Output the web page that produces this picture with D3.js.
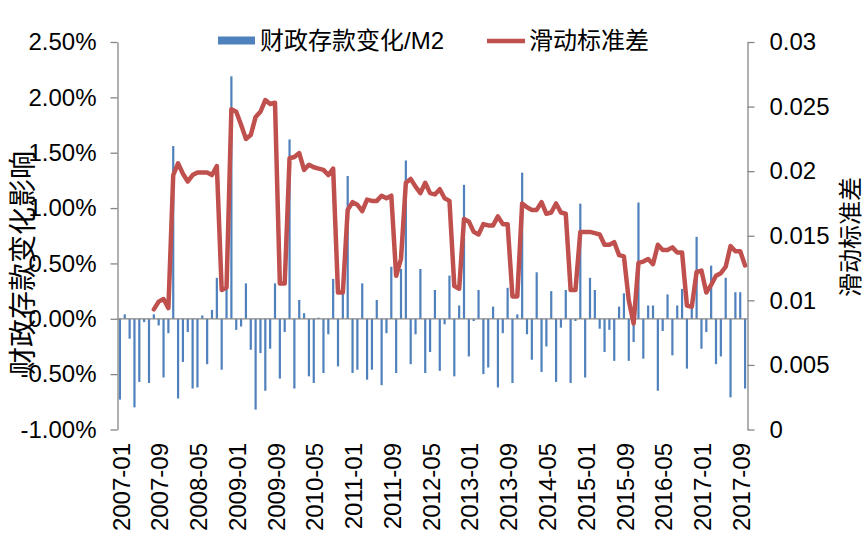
<!DOCTYPE html>
<html><head><meta charset="utf-8">
<script src="https://cdn.jsdelivr.net/npm/d3@7"></script>
<style>body{margin:0;background:#fff}text{font-family:"Liberation Sans","Noto Sans CJK SC",sans-serif;fill:#000}</style>
</head><body><svg id="c" width="866" height="543"></svg>
<script>
// ---- categories: monthly, 2007-01 .. 2017-10 ----
const startYear = 2007, nMonths = 130;
const months = [];
for (let k = 0; k < nMonths; k++) {
  months.push((startYear + Math.floor(k / 12)) + "-" + String(k % 12 + 1).padStart(2, "0"));
}
// ---- series 1: 财政存款变化/M2 (percent) ----
const depositChange = [
 -0.73, 0.04,-0.18,-0.80,-0.57,-0.03,-0.58, 0.04,-0.06,-0.53,-0.13, 1.56,
 -0.72,-0.39,-0.12,-0.63,-0.62, 0.03,-0.41, 0.08, 0.37,-0.46, 0.30, 2.19,
 -0.10,-0.07, 0.32,-0.28,-0.82,-0.31,-0.65,-0.27, 0.32,-0.54,-0.12, 1.62,
 -0.63, 0.17, 0.05,-0.52,-0.58, 0.01,-0.49,-0.14, 0.36,-0.43, 0.25, 1.29,
 -0.49,-0.46, 0.32,-0.55,-0.46, 0.17,-0.60,-0.13, 0.47,-0.49, 0.45, 1.43,
 -0.41,-0.14, 0.45,-0.49,-0.30, 0.26,-0.47,-0.05, 0.39,-0.52, 0.12, 1.21,
 -0.34,-0.02, 0.26,-0.50,-0.44, 0.11,-0.62,-0.13, 0.28,-0.58, 0.04, 1.32,
 -0.14,-0.37, 0.42,-0.48,-0.25, 0.25,-0.57,-0.08, 0.26,-0.58,-0.02, 1.04,
 -0.53, 0.37, 0.26,-0.09,-0.30,-0.10,-0.38, 0.11, 0.23,-0.38,-0.21, 1.05,
 -0.36, 0.12, 0.12,-0.65,-0.11, 0.22,-0.33, 0.12, 0.27,-0.45, 0.10, 0.74,
 -0.27,-0.12, 0.48,-0.41,-0.34, 0.37,-0.71, 0.24, 0.24,-0.63
];
// ---- series 2: 滑动标准差 ----
const rollingStd = [
 null,null,null,null,null,null,null,0.0093,0.0099,0.0101,0.0094,0.0197,
 0.0206,0.0198,0.0192,0.0197,0.0199,0.0199,0.0199,0.0197,0.0204,0.0108,0.0110,0.0248,
 0.0246,0.0236,0.0225,0.0228,0.0242,0.0246,0.0255,0.0252,0.0253,0.0113,0.0113,0.0210,
 0.0211,0.0214,0.0201,0.0205,0.0203,0.0202,0.0201,0.0197,0.0202,0.0106,0.0106,0.0170,
 0.0176,0.0174,0.0169,0.0178,0.0177,0.0177,0.0181,0.0179,0.0181,0.0119,0.0132,0.0191,
 0.0194,0.0188,0.0183,0.0191,0.0183,0.0182,0.0186,0.0179,0.0177,0.0111,0.0109,0.0163,
 0.0161,0.0153,0.0151,0.0159,0.0158,0.0158,0.0165,0.0159,0.0159,0.0103,0.0103,0.0175,
 0.0172,0.0170,0.0170,0.0176,0.0167,0.0168,0.0175,0.0168,0.0167,0.0108,0.0108,0.0153,
 0.0153,0.0153,0.0152,0.0151,0.0143,0.0143,0.0145,0.0135,0.0134,0.0100,0.0082,0.0129,
 0.0130,0.0132,0.0128,0.0143,0.0139,0.0139,0.0141,0.0137,0.0137,0.0096,0.0095,0.0122,
 0.0123,0.0106,0.0112,0.0119,0.0121,0.0126,0.0142,0.0138,0.0138,0.0127
];
// ---- tick labels ----
const leftTicks = [-1.0, -0.5, 0, 0.5, 1.0, 1.5, 2.0, 2.5];
const rightTicks = [0, 0.005, 0.01, 0.015, 0.02, 0.025, 0.03];
const xLabelStep = 8;
const seriesNames = ["财政存款变化/M2", "滑动标准差"];
const leftTitle = "财政存款变化影响", rightTitle = "滑动标准差";

const svg = d3.select("#c");
const L = 117.5, R = 747.5, T = 42, B = 429.5;
const axisColor = "#868686", barColor = "#4f81bd", lineColor = "#c0504d";

const x = d3.scaleBand().domain(months).range([L, R]).paddingInner(0).paddingOuter(0);
const yL = d3.scaleLinear().domain([-1, 2.5]).range([B, T]);
const yR = d3.scaleLinear().domain([0, 0.03]).range([B, T]);
const cx = m => x(m) + x.bandwidth() / 2;

// bars
svg.append("g").selectAll("rect").data(months).join("rect")
  .attr("x", m => cx(m) - 1.1).attr("width", 2.2)
  .attr("y", (m, i) => Math.min(yL(depositChange[i]), yL(0)))
  .attr("height", (m, i) => Math.abs(yL(depositChange[i]) - yL(0)))
  .attr("fill", barColor);

// zero axis
svg.append("line").attr("x1", L).attr("x2", R).attr("y1", yL(0)).attr("y2", yL(0))
  .attr("stroke", axisColor).attr("stroke-width", 1.3);

// line
const line = d3.line().defined(d => d.v != null).x(d => cx(d.m)).y(d => yR(d.v));
svg.append("path").datum(months.map((m, i) => ({m, v: rollingStd[i]})))
  .attr("d", line).attr("fill", "none").attr("stroke", lineColor)
  .attr("stroke-width", 4.5).attr("stroke-linejoin", "round").attr("stroke-linecap", "round");

// left axis
const gl = svg.append("g").attr("transform", `translate(${L},0)`)
  .call(d3.axisLeft(yL).tickValues(leftTicks).tickSize(7).tickSizeOuter(0).tickPadding(14)
    .tickFormat(d => d.toFixed(2) + "%"));
// right axis
const gr = svg.append("g").attr("transform", `translate(${R},0)`)
  .call(d3.axisRight(yR).tickValues(rightTicks).tickSize(7).tickSizeOuter(0).tickPadding(15)
    .tickFormat(d => String(+d.toFixed(3))));
[gl, gr].forEach(g => {
  g.select(".domain").attr("stroke", axisColor).attr("stroke-width", 1.3);
  g.selectAll(".tick line").attr("stroke", axisColor).attr("stroke-width", 1.3);
  g.selectAll(".tick text").attr("font-size", 24).attr("fill", "#000")
    .style("font-family", '"Liberation Sans", sans-serif');
});

// x labels
svg.append("g").selectAll("text").data(months.filter((m, i) => i % xLabelStep === 0)).join("text")
  .attr("transform", m => `translate(${cx(m) + 1},443) rotate(-90)`)
  .attr("text-anchor", "end").attr("dy", "0.36em").attr("font-size", 24).text(m => m);

// axis titles
svg.append("text").attr("transform", "translate(21,263) rotate(-90)")
  .attr("text-anchor", "middle").attr("dominant-baseline", "central")
  .attr("font-size", 28).style("font-family", '"Noto Sans CJK SC"').text(leftTitle);
svg.append("text").attr("transform", "translate(848,237) rotate(-90)")
  .attr("text-anchor", "middle").attr("dominant-baseline", "central")
  .attr("font-size", 24).style("font-family", '"Noto Sans CJK SC"').text(rightTitle);

// legend
const lg = svg.append("g");
lg.append("rect").attr("x", 218).attr("y", 36.5).attr("width", 37).attr("height", 8).attr("fill", barColor);
lg.append("text").attr("x", 260).attr("y", 49).attr("font-size", 24).text(seriesNames[0]);
lg.append("line").attr("x1", 487).attr("x2", 525).attr("y1", 41).attr("y2", 41)
  .attr("stroke", lineColor).attr("stroke-width", 4.5);
lg.append("text").attr("x", 529).attr("y", 49).attr("font-size", 24).text(seriesNames[1]);
</script></body></html>
